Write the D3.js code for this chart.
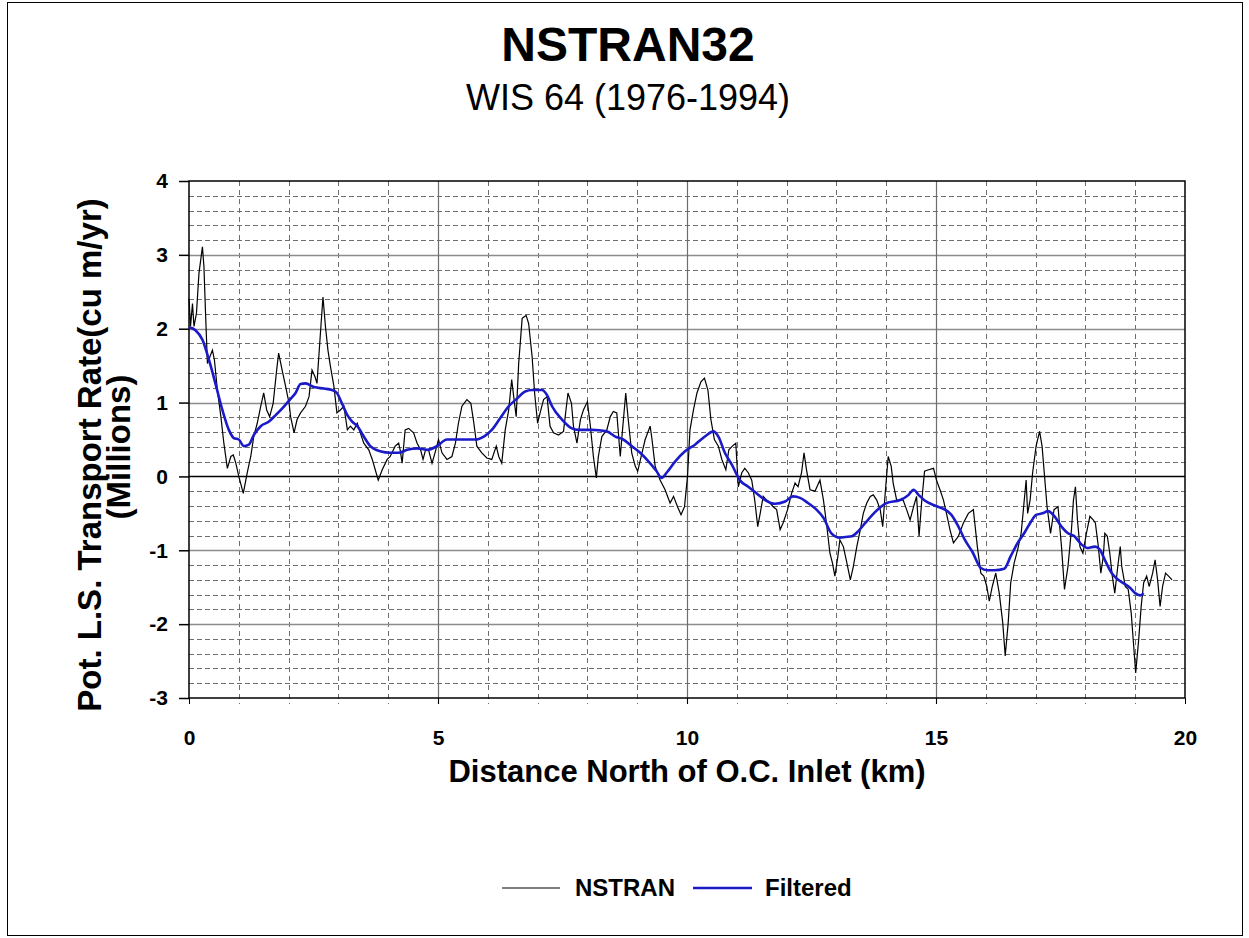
<!DOCTYPE html>
<html>
<head>
<meta charset="utf-8">
<script src="https://cdn.jsdelivr.net/npm/d3@7"></script>
<style>
body { margin: 0; background: #fff; }
svg { display: block; font-family: "Liberation Sans", Arial, sans-serif; }
</style>
</head>
<body>
<svg width="1249" height="938"></svg>
<script>
// NSTRAN raw values (km north of inlet, millions cu m/yr)
var nstranKm = [0.00,0.03,0.07,0.10,0.15,0.20,0.27,0.30,0.33,0.37,0.42,0.47,0.51,0.57,0.64,0.70,0.77,0.84,0.89,0.94,
  1.00,1.09,1.17,1.24,1.30,1.37,1.44,1.50,1.56,1.62,1.69,1.76,1.80,1.87,1.94,2.01,2.04,2.11,2.17,2.24,
  2.34,2.41,2.47,2.53,2.57,2.63,2.69,2.74,2.79,2.84,2.91,2.97,3.04,3.11,3.18,3.24,3.31,3.38,3.44,3.51,
  3.61,3.68,3.74,3.80,3.88,3.98,4.04,4.14,4.21,4.24,4.28,4.34,4.41,4.51,4.58,4.65,4.70,4.75,4.81,4.88,
  4.94,5.01,5.08,5.18,5.28,5.35,5.41,5.48,5.58,5.66,5.72,5.78,5.88,5.98,6.08,6.17,6.22,6.28,6.35,6.42,
  6.48,6.52,6.57,6.62,6.69,6.77,6.82,6.89,6.94,7.00,7.05,7.12,7.19,7.25,7.32,7.42,7.52,7.61,7.68,7.72,
  7.79,7.86,7.92,8.00,8.06,8.12,8.18,8.22,8.29,8.39,8.46,8.52,8.59,8.66,8.70,8.77,8.82,8.89,8.96,9.01,
  9.08,9.16,9.26,9.29,9.36,9.46,9.56,9.66,9.73,9.81,9.88,9.95,10.01,10.06,10.13,10.20,10.28,10.35,10.42,10.48,
  10.55,10.63,10.70,10.78,10.84,10.91,10.98,11.03,11.10,11.16,11.23,11.30,11.36,11.42,11.47,11.53,11.60,11.67,11.73,11.80,
  11.87,11.93,12.02,12.10,12.17,12.23,12.30,12.35,12.40,12.47,12.57,12.67,12.74,12.80,12.87,12.92,12.97,13.03,13.07,13.14,
  13.21,13.28,13.34,13.41,13.48,13.54,13.61,13.68,13.74,13.81,13.88,13.93,13.98,14.04,14.10,14.14,14.21,14.28,14.34,14.41,
  14.48,14.55,14.61,14.66,14.71,14.77,14.85,14.95,15.01,15.08,15.15,15.21,15.28,15.35,15.45,15.55,15.65,15.75,15.83,15.90,
  15.96,16.02,16.07,16.13,16.20,16.27,16.34,16.39,16.45,16.50,16.57,16.64,16.71,16.76,16.81,16.84,16.89,16.94,17.01,17.08,
  17.13,17.18,17.23,17.30,17.37,17.45,17.52,17.58,17.65,17.72,17.76,17.80,17.84,17.89,17.95,18.02,18.09,18.16,18.20,18.26,
  18.31,18.36,18.39,18.44,18.49,18.54,18.59,18.65,18.70,18.73,18.80,18.86,18.92,18.97,19.01,19.07,19.12,19.17,19.23,19.28,
  19.35,19.40,19.45,19.50,19.55,19.61,19.67,19.74];
var nstranVal = [2.41,2.03,2.34,2.03,2.21,2.75,3.11,2.84,2.25,1.53,1.62,1.71,1.58,1.17,0.81,0.45,0.11,0.27,0.29,0.18,
  0.00,-0.23,0.05,0.27,0.54,0.72,0.95,1.13,0.90,0.81,0.99,1.44,1.67,1.44,1.22,0.99,0.81,0.59,0.77,0.86,
  0.95,1.08,1.44,1.35,1.26,1.85,2.43,2.03,1.71,1.49,1.22,0.86,0.90,0.95,0.63,0.68,0.63,0.72,0.59,0.45,
  0.36,0.23,0.09,-0.05,0.09,0.23,0.27,0.41,0.45,0.36,0.18,0.63,0.65,0.59,0.45,0.36,0.23,0.36,0.36,0.18,
  0.32,0.50,0.32,0.23,0.27,0.45,0.72,0.95,1.04,0.99,0.72,0.41,0.32,0.25,0.23,0.41,0.27,0.18,0.63,0.90,
  1.31,1.08,0.81,1.53,2.14,2.18,2.07,1.62,1.13,0.72,0.86,1.04,1.08,0.68,0.59,0.56,0.61,1.13,0.99,0.68,
  0.45,0.77,0.90,1.01,0.68,0.27,-0.02,0.27,0.54,0.63,0.81,0.88,0.86,0.27,0.59,1.13,0.77,0.32,0.14,0.07,
  0.27,0.50,0.68,0.54,0.14,-0.05,-0.18,-0.36,-0.27,-0.41,-0.52,-0.41,0.00,0.63,0.90,1.13,1.28,1.33,1.17,0.77,
  0.50,0.41,0.23,0.09,0.36,0.41,0.45,-0.14,0.05,0.11,0.05,-0.05,-0.32,-0.68,-0.50,-0.27,-0.32,-0.36,-0.41,-0.45,
  -0.72,-0.63,-0.45,-0.23,-0.09,-0.14,0.05,0.32,0.09,-0.18,-0.20,-0.05,-0.32,-0.63,-1.04,-1.17,-1.35,-1.08,-0.86,-0.95,
  -1.17,-1.40,-1.22,-0.95,-0.72,-0.50,-0.36,-0.27,-0.25,-0.32,-0.45,-0.68,-0.23,0.27,0.14,-0.09,-0.32,-0.32,-0.32,-0.45,
  -0.59,-0.41,-0.27,-0.81,-0.36,0.07,0.09,0.11,-0.05,-0.18,-0.32,-0.50,-0.72,-0.90,-0.81,-0.63,-0.50,-0.45,-0.95,-1.31,
  -1.35,-1.49,-1.69,-1.49,-1.31,-1.58,-1.98,-2.43,-1.98,-1.44,-1.17,-0.99,-0.77,-0.41,-0.05,-0.50,-0.32,0.05,0.41,0.61,
  0.41,0.00,-0.41,-0.77,-0.45,-0.41,-0.95,-1.53,-1.22,-0.72,-0.32,-0.14,-0.59,-0.95,-1.04,-0.77,-0.54,-0.59,-0.63,-0.95,
  -1.31,-1.08,-0.77,-0.81,-1.04,-1.35,-1.58,-1.22,-0.95,-1.22,-1.49,-1.53,-1.85,-2.30,-2.66,-2.21,-1.76,-1.44,-1.35,-1.49,
  -1.31,-1.13,-1.40,-1.76,-1.49,-1.31,-1.35,-1.40];

// Filtered series
var filteredKm = [0.00,0.13,0.27,0.40,0.53,0.67,0.80,0.90,1.00,1.10,1.20,1.30,1.44,1.60,1.74,1.91,2.04,2.14,2.24,2.34,
  2.51,2.71,2.87,2.97,3.07,3.18,3.28,3.38,3.51,3.64,3.84,4.04,4.21,4.38,4.58,4.78,4.98,5.18,5.38,5.75,
  5.92,6.08,6.25,6.42,6.58,6.75,6.89,7.09,7.19,7.29,7.49,7.69,7.82,8.09,8.39,8.56,8.72,8.89,9.06,9.23,
  9.39,9.49,9.59,9.76,9.96,10.16,10.36,10.53,10.63,10.76,10.90,11.06,11.23,11.40,11.57,11.77,11.97,12.13,12.27,12.43,
  12.60,12.74,12.90,13.07,13.18,13.31,13.44,13.58,13.78,14.01,14.28,14.45,14.55,14.65,14.78,15.00,15.18,15.31,15.45,15.58,
  15.73,15.90,16.03,16.17,16.37,16.50,16.64,16.77,16.91,17.01,17.14,17.25,17.38,17.52,17.65,17.78,17.92,18.05,18.19,18.29,
  18.39,18.53,18.66,18.80,18.90,19.00,19.10,19.17];
var filteredVal = [2.02,1.98,1.85,1.58,1.26,0.90,0.63,0.52,0.50,0.41,0.43,0.56,0.68,0.74,0.83,0.95,1.05,1.13,1.25,1.26,
  1.21,1.19,1.17,1.13,0.99,0.83,0.74,0.68,0.54,0.41,0.34,0.32,0.32,0.36,0.38,0.36,0.41,0.50,0.50,0.50,
  0.54,0.63,0.79,0.95,1.05,1.15,1.17,1.17,1.10,0.95,0.77,0.65,0.63,0.63,0.61,0.54,0.50,0.41,0.32,0.20,
  0.07,-0.02,0.05,0.20,0.34,0.43,0.54,0.61,0.54,0.32,0.16,-0.05,-0.14,-0.23,-0.32,-0.37,-0.34,-0.27,-0.29,-0.36,
  -0.45,-0.56,-0.77,-0.83,-0.82,-0.81,-0.74,-0.63,-0.48,-0.36,-0.32,-0.25,-0.18,-0.25,-0.33,-0.40,-0.45,-0.52,-0.68,-0.86,
  -1.02,-1.24,-1.27,-1.27,-1.25,-1.08,-0.90,-0.77,-0.61,-0.52,-0.50,-0.47,-0.54,-0.68,-0.77,-0.81,-0.92,-0.97,-0.95,-0.99,
  -1.13,-1.31,-1.40,-1.46,-1.51,-1.58,-1.61,-1.58];

var xTickLabels = [0, 5, 10, 15, 20];
var yTickLabels = [-3, -2, -1, 0, 1, 2, 3, 4];

(function() {
  var svg = d3.select('svg');

  // outer frame
  svg.append('rect')
    .attr('x', 7.5).attr('y', 2.5)
    .attr('width', 1235).attr('height', 933)
    .attr('fill', 'none').attr('stroke', '#000').attr('stroke-width', 1);

  var pLeft = 189, pRight = 1185, pTop = 181, pBottom = 698;

  var xScale = d3.scaleLinear().domain([0, 20]).range([pLeft, pRight]);
  var yScale = d3.scaleLinear().domain([-3, 4]).range([pBottom, pTop]);

  function yPix(d) { return Math.round(yScale(d)) + 0.5; }
  function xPix(d) { return Math.round(xScale(d)) + 0.5; }

  // minor gridlines every 0.2 / every km
  var grid = svg.append('g').attr('class', 'grid');
  var yMinor = d3.range(-28, 40, 2).map(function(d){ return d / 10; })
    .filter(function(d){ return Math.abs(d - Math.round(d)) > 0.05; });
  grid.selectAll('.hminor')
    .data(yMinor)
    .enter().append('line')
    .attr('x1', pLeft).attr('x2', pRight)
    .attr('y1', yPix).attr('y2', yPix)
    .attr('stroke', '#6e6e6e').attr('stroke-dasharray', '5,3');

  grid.selectAll('.vminor')
    .data(d3.range(1, 20).filter(function(d){ return d % 5 != 0; }))
    .enter().append('line')
    .attr('y1', pTop).attr('y2', pBottom + 6)
    .attr('x1', xPix).attr('x2', xPix)
    .attr('stroke', '#6e6e6e').attr('stroke-dasharray', '5,4');

  // major gridlines
  grid.selectAll('.hmajor')
    .data([-2, -1, 1, 2, 3])
    .enter().append('line')
    .attr('x1', pLeft).attr('x2', pRight)
    .attr('y1', yPix).attr('y2', yPix)
    .attr('stroke', '#8c8c8c').attr('stroke-width', 1.5);

  grid.selectAll('.vmajor')
    .data([5, 10, 15])
    .enter().append('line')
    .attr('y1', pTop).attr('y2', pBottom + 6)
    .attr('x1', xPix).attr('x2', xPix)
    .attr('stroke', '#6e6e6e').attr('stroke-width', 1.2);

  // zero line
  svg.append('line')
    .attr('x1', pLeft).attr('x2', pRight)
    .attr('y1', yPix(0)).attr('y2', yPix(0))
    .attr('stroke', '#000').attr('stroke-width', 1.5);

  // plot frame
  svg.append('rect')
    .attr('x', pLeft).attr('y', pTop)
    .attr('width', pRight - pLeft).attr('height', pBottom - pTop)
    .attr('fill', 'none').attr('stroke', '#000').attr('stroke-width', 1.5);

  // axes
  svg.append('g')
    .attr('class', 'y axis')
    .attr('transform', 'translate(' + pLeft + ',0)')
    .call(d3.axisLeft(yScale).tickValues(yTickLabels).tickSize(10).tickPadding(11)
      .tickFormat(function(d){ return String(d); }))
    .call(function(g){
      g.select('.domain').remove();
      g.selectAll('line').attr('stroke-width', 1.5);
      g.selectAll('text').attr('font-size', 21).attr('font-weight', 'bold').attr('fill', '#000');
    })
    .attr('font-family', null).attr('font-size', null);

  svg.append('g')
    .attr('class', 'x axis')
    .attr('transform', 'translate(0,' + pBottom + ')')
    .call(d3.axisBottom(xScale).tickValues(xTickLabels).tickSize(6).tickPadding(26))
    .call(function(g){
      g.select('.domain').remove();
      g.selectAll('text').attr('font-size', 21).attr('font-weight', 'bold').attr('fill', '#000');
    })
    .attr('font-family', null).attr('font-size', null);

  // series
  var nstran = nstranKm.map(function(d, i){ return [d, nstranVal[i]]; });
  var filtered = filteredKm.map(function(d, i){ return [d, filteredVal[i]]; });

  var line = d3.line()
    .x(function(d){ return xScale(d[0]); })
    .y(function(d){ return yScale(d[1]); });

  svg.append('path')
    .datum(nstran)
    .attr('d', line)
    .attr('fill', 'none').attr('stroke', '#000').attr('stroke-width', 1.2);

  svg.append('path')
    .datum(filtered)
    .attr('d', line.curve(d3.curveMonotoneX))
    .attr('fill', 'none').attr('stroke', '#1a1ac8').attr('stroke-width', 2.6);

  // titles
  svg.append('text')
    .attr('x', 628).attr('y', 61)
    .attr('text-anchor', 'middle')
    .attr('font-size', 48).attr('font-weight', 'bold')
    .text('NSTRAN32');

  svg.append('text')
    .attr('x', 628).attr('y', 110)
    .attr('text-anchor', 'middle')
    .attr('font-size', 36)
    .text('WIS 64 (1976-1994)');

  svg.append('text')
    .attr('x', 687).attr('y', 782)
    .attr('text-anchor', 'middle')
    .attr('font-size', 31).attr('font-weight', 'bold')
    .text('Distance North of O.C. Inlet (km)');

  svg.append('text')
    .attr('transform', 'translate(101,455)rotate(-90)')
    .attr('text-anchor', 'middle')
    .attr('font-size', 33).attr('font-weight', 'bold')
    .text('Pot. L.S. Transport Rate(cu m/yr)');

  svg.append('text')
    .attr('transform', 'translate(130,447)rotate(-90)')
    .attr('text-anchor', 'middle')
    .attr('font-size', 33).attr('font-weight', 'bold')
    .text('(Millions)');

  // legend
  var legend = svg.append('g').attr('class', 'legend');
  legend.append('line')
    .attr('x1', 502).attr('x2', 560).attr('y1', 888).attr('y2', 888)
    .attr('stroke', '#000').attr('stroke-width', 1.2);
  legend.append('text')
    .attr('x', 575).attr('y', 896)
    .attr('font-size', 24).attr('font-weight', 'bold')
    .text('NSTRAN');
  legend.append('line')
    .attr('x1', 693).attr('x2', 752).attr('y1', 888).attr('y2', 888)
    .attr('stroke', '#1a1ac8').attr('stroke-width', 2.6);
  legend.append('text')
    .attr('x', 765).attr('y', 896)
    .attr('font-size', 24).attr('font-weight', 'bold')
    .text('Filtered');
})();
</script>
</body>
</html>
